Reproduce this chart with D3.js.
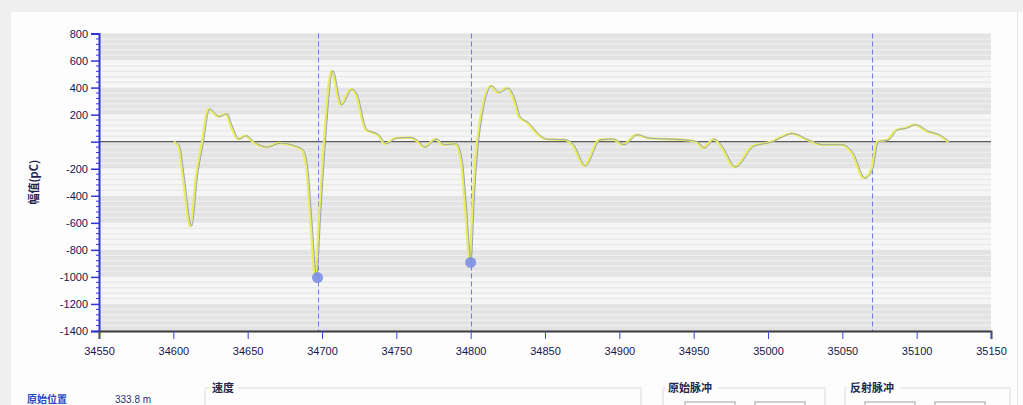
<!DOCTYPE html>
<html>
    <head>
        <title>脉冲波形</title>
        <script src="https://d3js.org/d3.v7.min.js"></script>
        <style>
        body {
            margin: 0;
            background: #efefef;
        }
        text {
            font-family: "Liberation Sans", Arial, sans-serif;
        }
        .tickLabel {
            font-size: 11px;
            fill: #16164e;
        }
        .wave {
            fill: none;
            stroke-linejoin: round;
        }
        .uiLabel {
            font-family: "Noto Sans CJK SC", sans-serif;
            font-size: 11px;
            font-weight: bold;
            fill: #26264a;
        }
        </style>
    </head>

    <body>
        <svg id="chart" width=1023 height=405></svg>

        <script>
            // Waveform samples (position, amplitude in pC)
            const positions = [34601, 34604, 34607, 34612, 34616, 34620, 34624, 34631, 34636, 34639,
                               34644, 34649, 34654, 34663, 34672, 34681, 34687, 34690, 34693, 34696,
                               34699, 34702, 34707, 34713, 34720, 34723, 34730, 34738, 34743, 34750,
                               34760, 34765, 34769, 34777, 34782, 34790, 34794, 34797, 34800, 34802,
                               34805, 34814, 34819, 34825, 34830, 34833, 34839, 34846, 34851, 34864,
                               34869, 34877, 34887, 34896, 34903, 34912, 34920, 34943, 34952, 34957,
                               34964, 34969, 34978, 34990, 35003, 35010, 35016, 35028, 35037, 35050,
                               35057, 35065, 35070, 35074, 35081, 35087, 35093, 35099, 35108, 35115,
                               35122];
            const amplitudes = [0, -35, -257, -625, -250, 0, 240, 186, 206, 125,
                                19, 44, 0, -40, -10, -30, -60, -183, -600, -1000,
                                -500, 0, 525, 272, 388, 359, 88, 51, -15, 26,
                                31, 0, -40, 19, -23, -15, -134, -500, -880, -450,
                                0, 413, 363, 396, 297, 186, 137, 51, 19, 14,
                                -23, -178, 14, 20, -23, 51, 26, 14, 0, -47,
                                19, -35, -188, -35, 0, 38, 60, 9, -23, -23,
                                -84, -269, -207, 0, 14, 88, 100, 125, 75, 51,
                                -3];

            // Cursor lines and peak markers
            const cursorPositions = [34697, 34800, 35070];
            const peakPositions = [34697, 34800];
            const peakValues = [-1005, -893];

            // Axis ticks
            const xTicks = [34550, 34600, 34650, 34700, 34750, 34800, 34850, 34900, 34950, 35000, 35050, 35100, 35150];
            const yTicks = [800, 600, 400, 200, 0, -200, -400, -600, -800, -1000, -1200, -1400];
            const yTickLabels = ["800", "600", "400", "200", "", "-200", "-400", "-600", "-800", "-1000", "-1200", "-1400"];

            const svg = d3.select("svg#chart");

            // Window panel
            svg.append("rect")
               .attr("x", 11).attr("y", 12)
               .attr("width", 1012).attr("height", 400)
               .attr("fill", "#fdfdfd");
            svg.append("line")
               .attr("x1", 1017.5).attr("x2", 1017.5)
               .attr("y1", 12).attr("y2", 405)
               .attr("stroke", "#e4e4e4");

            const x = d3.scaleLinear().domain([34550, 35150]).range([99, 991]);
            const y = d3.scaleLinear().domain([-1400, 800]).range([331, 33.5]);

            // Alternating bands every 200
            const bands = d3.range(yTicks.length - 1);
            svg.selectAll("rect.band").data(bands)
               .join("rect")
               .attr("class", "band")
               .attr("x", x(34550))
               .attr("width", x(35150) - x(34550))
               .attr("y", i => y(yTicks[i]))
               .attr("height", i => y(yTicks[i + 1]) - y(yTicks[i]))
               .attr("fill", i => i % 2 == 0 ? "#e3e3e3" : "#f6f6f6");

            // Minor grid stripes
            const minor = d3.range(-1400, 800, 40).filter(v => v % 200 != 0);
            svg.selectAll("line.minor").data(minor)
               .join("line")
               .attr("class", "minor")
               .attr("x1", x(34550)).attr("x2", x(35150))
               .attr("y1", d => y(d)).attr("y2", d => y(d))
               .attr("stroke", d => Math.floor((800 - d) / 200) % 2 == 0 ? "#eeeeee" : "#e9e9e9")
               .attr("stroke-width", 1.5);

            // Zero line
            svg.append("line")
               .attr("x1", x(34550)).attr("x2", x(35150))
               .attr("y1", y(0)).attr("y2", y(0))
               .attr("stroke", "#5a5a5a")
               .attr("stroke-width", 1.2);

            // Cursor lines (snapped to the pixel grid)
            svg.selectAll("line.cursor").data(cursorPositions)
               .join("line")
               .attr("class", "cursor")
               .attr("x1", d => Math.round(x(d)) + 0.5).attr("x2", d => Math.round(x(d)) + 0.5)
               .attr("y1", y(800)).attr("y2", y(-1400))
               .attr("stroke", "#6a7cf0")
               .attr("stroke-dasharray", "5,3");

            // Waveform: yellow trace under a thin blue-grey trace
            const samples = positions.map((p, i) => ({pos: p, amp: amplitudes[i]}));
            const line = d3.line()
                           .x(d => x(d.pos))
                           .y(d => y(d.amp))
                           .curve(d3.curveMonotoneX);

            svg.append("path").datum(samples)
               .attr("class", "wave")
               .attr("d", line)
               .attr("transform", "translate(-1,0)")
               .attr("stroke", "#eaee5e")
               .attr("stroke-width", 2.4);
            svg.append("path").datum(samples)
               .attr("class", "wave")
               .attr("d", line)
               .attr("transform", "translate(0.5,0)")
               .attr("stroke", "#98a2b4")
               .attr("stroke-width", 1);

            // Peak markers
            svg.selectAll("circle.peak").data(peakPositions)
               .join("circle")
               .attr("class", "peak")
               .attr("cx", d => x(d))
               .attr("cy", (d, i) => y(peakValues[i]))
               .attr("r", 5.5)
               .attr("fill", "#7c90e4")
               .attr("opacity", 0.9);

            // Y axis
            const yAxis = svg.append("g")
                             .attr("transform", `translate(${x(34550)},0)`)
                             .call(d3.axisLeft(y)
                                     .tickValues(yTicks)
                                     .tickSize(8)
                                     .tickFormat((d, i) => yTickLabels[i]));
            yAxis.select(".domain").attr("stroke", "#2e36d8").attr("stroke-width", 2);
            yAxis.selectAll(".tick line").attr("stroke", "#2e36d8").attr("stroke-width", 1.5);
            yAxis.selectAll(".tick text").attr("class", "tickLabel").attr("x", -11);
            yAxis.append("g")
                 .selectAll("line").data(minor)
                 .join("line")
                 .attr("x1", -3).attr("x2", 0)
                 .attr("y1", d => y(d)).attr("y2", d => y(d))
                 .attr("stroke", "#2e36d8");

            // X axis
            const xAxis = svg.append("g")
                             .attr("transform", `translate(0,${y(-1400)})`)
                             .call(d3.axisBottom(x)
                                     .tickValues(xTicks)
                                     .tickSize(8)
                                     .tickFormat(d3.format("d")));
            xAxis.select(".domain").attr("stroke", "#3a3a3a").attr("stroke-width", 2);
            xAxis.selectAll(".tick line").attr("stroke", "#3a46d6");
            xAxis.selectAll(".tick text").attr("class", "tickLabel").attr("y", 16);

            // Y axis title
            svg.append("text")
               .attr("transform", `translate(38,${y(-300)}) rotate(-90)`)
               .attr("text-anchor", "middle")
               .style("font-family", "'Noto Sans CJK SC', sans-serif")
               .style("font-size", "11px")
               .style("font-weight", "bold")
               .attr("fill", "#1e1e50")
               .text("幅值(pC)");

            // Lower control panel
            const panel = svg.append("g");
            panel.append("text").attr("x", 27).attr("y", 403)
                 .attr("class", "uiLabel").style("fill", "#2846c4")
                 .style("font-size", "10px")
                 .text("原始位置");
            panel.append("text").attr("x", 115).attr("y", 403)
                 .style("font-size", "10px").attr("fill", "#30306a")
                 .text("333.8 m");

            const boxes = [
                {label: "速度", left: 205, right: 641, labelX: 212},
                {label: "原始脉冲", left: 663, right: 825, labelX: 668},
                {label: "反射脉冲", left: 845, right: 1010, labelX: 850}
            ];
            boxes.forEach(b => {
                panel.append("path")
                     .attr("d", `M${b.left},405V388H${b.labelX - 3}M${b.labelX + (b.label.length * 12) + 2},388H${b.right}V405`)
                     .attr("fill", "none")
                     .attr("stroke", "#dcdcdc");
                panel.append("text").attr("x", b.labelX).attr("y", 392)
                     .attr("class", "uiLabel")
                     .text(b.label);
            });

            const inputs = [685, 755, 865, 935];
            panel.selectAll("rect.input").data(inputs)
                 .join("rect")
                 .attr("class", "input")
                 .attr("x", d => d).attr("y", 402)
                 .attr("width", 50).attr("height", 12)
                 .attr("fill", "#ffffff")
                 .attr("stroke", "#a0a0a0");
        </script>
    </body>
</html>
